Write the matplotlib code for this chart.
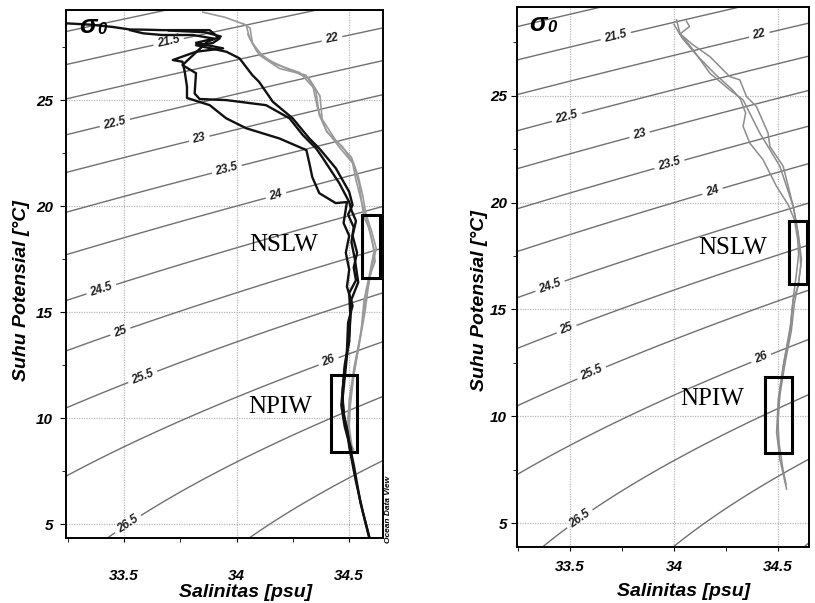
import numpy as np
import matplotlib
matplotlib.use('Agg')
import matplotlib.pyplot as plt
from matplotlib.ticker import MultipleLocator, FuncFormatter
from matplotlib.patches import Rectangle

plt.rcParams['font.family'] = ['Liberation Sans', 'DejaVu Sans']

# ---- data (salinity psu, potential temperature degC) ----
# left panel, black profiles
kiri_hitam1_S = [33.245, 33.35, 33.45, 33.527, 33.60, 33.67, 33.88, 33.925, 33.894, 33.82, 33.955,
                 34.013, 34.07, 34.10, 34.161, 34.249, 34.323, 34.367, 34.441, 34.50, 34.515, 34.495,
                 34.52, 34.51, 34.525, 34.54, 34.51, 34.50, 34.485, 34.47, 34.478, 34.493, 34.50,
                 34.53, 34.56, 34.596]
kiri_hitam1_T = [28.62, 28.56, 28.45, 28.33, 28.32, 28.30, 28.30, 27.91, 27.69, 27.59, 27.28,
                 26.97, 26.18, 25.86, 24.92, 24.14, 23.19, 22.72, 21.78, 20.67, 20.05, 19.60,
                 19.00, 18.30, 17.50, 16.40, 15.60, 14.00, 12.40, 10.85, 10.06, 9.28, 8.65,
                 7.00, 5.60, 4.10]

kiri_hitam2_S = [33.527, 33.585, 33.67, 33.807, 33.90, 33.82, 33.94, 33.82, 33.717, 33.76, 33.77,
                 33.78, 33.78, 33.881, 33.954, 34.043, 34.19, 34.31, 34.323, 34.336, 34.367, 34.44,
                 34.49, 34.475, 34.50, 34.485, 34.50, 34.49, 34.515, 34.495, 34.49, 34.475, 34.465,
                 34.48, 34.50, 34.52, 34.55, 34.59]
kiri_hitam2_T = [28.30, 28.15, 28.07, 28.07, 27.90, 27.70, 27.44, 27.28, 26.89, 26.81, 26.34,
                 25.63, 25.10, 24.76, 24.14, 23.67, 23.19, 22.64, 22.03, 21.37, 20.61, 20.14,
                 20.19, 19.20, 18.60, 17.80, 17.00, 16.20, 15.30, 14.50, 13.20, 11.80, 10.60,
                 9.60, 8.80, 7.80, 6.00, 4.30]

kiri_hitam3_S = [33.70, 33.86, 33.93, 33.87, 33.76, 33.82, 33.814, 33.836, 33.954, 34.131, 34.235,
                 34.294, 34.353, 34.38, 34.456, 34.50, 34.51, 34.53, 34.515, 34.535, 34.52, 34.53,
                 34.50, 34.505, 34.50, 34.48, 34.47, 34.475, 34.49, 34.50, 34.51]
kiri_hitam3_T = [28.28, 28.20, 28.00, 27.75, 26.65, 26.27, 25.31, 25.05, 25.00, 24.76, 24.14,
                 23.35, 22.72, 22.31, 21.08, 20.19, 19.80, 19.30, 18.60, 17.80, 17.10, 16.50,
                 15.90, 14.80, 13.60, 12.50, 11.20, 10.20, 9.50, 8.90, 8.50]

# left panel, grey profiles
kiri_abu1_S = [33.85, 33.95, 34.043, 34.058, 34.102, 34.19, 34.308, 34.353, 34.367, 34.398, 34.456,
               34.515, 34.53, 34.553, 34.575, 34.611, 34.588, 34.566, 34.552, 34.522, 34.50,
               34.493, 34.52, 34.55, 34.59]
kiri_abu1_T = [29.15, 28.90, 28.54, 27.91, 27.12, 26.49, 26.18, 25.39, 24.29, 23.58, 22.78,
               22.03, 21.23, 20.28, 19.48, 17.92, 16.67, 15.57, 13.99, 12.42, 10.85,
               9.28, 7.50, 6.00, 4.40]

kiri_abu2_S = [34.03, 34.06, 34.07, 34.12, 34.22, 34.32, 34.37, 34.38, 34.44, 34.51, 34.54, 34.56,
               34.575, 34.60, 34.62, 34.60, 34.585, 34.57, 34.545, 34.52, 34.505, 34.50, 34.51]
kiri_abu2_T = [28.60, 28.40, 27.70, 27.00, 26.50, 26.05, 25.20, 24.10, 23.10, 22.30, 21.40, 20.50,
               19.60, 18.80, 18.00, 17.10, 16.20, 15.00, 13.50, 12.00, 10.60, 9.60, 8.80]

kiri_abu3_S = [34.05, 34.09, 34.17, 34.28, 34.34, 34.36, 34.40, 34.47, 34.52, 34.545, 34.555, 34.565,
               34.59, 34.605, 34.615, 34.595, 34.575, 34.56, 34.535, 34.51, 34.495, 34.50, 34.52]
kiri_abu3_T = [28.10, 27.30, 26.70, 26.30, 25.60, 24.60, 23.50, 22.80, 22.00, 21.00, 20.20, 19.50,
               18.90, 18.20, 17.40, 16.80, 15.90, 14.60, 13.00, 11.40, 10.00, 9.00, 8.50]

# right panel, grey profiles
kanan_abu1_S = [34.013, 34.029, 34.093, 34.173, 34.269, 34.333, 34.365, 34.413, 34.462, 34.510, 34.542,
                34.574, 34.598, 34.614, 34.598, 34.574, 34.558, 34.526, 34.502, 34.494, 34.51, 34.542]
kanan_abu1_T = [28.55, 27.93, 27.15, 26.06, 25.28, 24.81, 24.19, 23.26, 22.48, 21.70, 20.76,
                19.83, 18.58, 17.34, 16.09, 15.47, 13.91, 12.35, 10.79, 9.24, 7.99, 6.59]

kanan_abu2_S = [34.00, 34.04, 34.11, 34.20, 34.28, 34.32, 34.345, 34.333, 34.365, 34.429, 34.494, 34.55,
                34.58, 34.595, 34.60, 34.59, 34.575, 34.56, 34.53, 34.51, 34.50, 34.505, 34.525, 34.54]
kanan_abu2_T = [28.35, 27.70, 26.90, 26.00, 25.30, 24.85, 24.20, 23.57, 22.79, 22.01, 20.76, 19.90,
                19.20, 18.30, 17.60, 16.70, 15.60, 14.20, 12.60, 11.20, 10.00, 8.80, 7.50, 6.80]

kanan_abu3_S = [34.06, 34.075, 34.03, 34.09, 34.173, 34.269, 34.317, 34.349, 34.397, 34.453, 34.462,
                34.526, 34.558, 34.574, 34.59, 34.605, 34.61, 34.60, 34.58, 34.565, 34.535, 34.51,
                34.50, 34.505]
kanan_abu3_T = [28.50, 28.25, 27.90, 27.40, 26.84, 25.90, 25.75, 24.97, 24.50, 23.26, 22.63,
                21.70, 20.45, 19.83, 19.00, 18.00, 17.00, 16.30, 15.30, 14.00, 12.50, 11.00,
                9.60, 8.60]

# water mass boxes (S min, S max, T min, T max)
kotak_kiri = {'NSLW': (34.558, 34.637, 16.6, 19.58), 'NPIW': (34.42, 34.535, 8.40, 12.03)}
kotak_kanan = {'NSLW': (34.553, 34.639, 16.17, 19.16), 'NPIW': (34.438, 34.567, 8.27, 11.82)}

level_polos = [20.0, 20.5, 21.0, 27.0, 27.5, 28.0]
level_label = [21.5, 22.0, 22.5, 23.0, 23.5, 24.0, 24.5, 25.0, 25.5, 26.0, 26.5]


def sigma0(S, T):
    # EOS-80 density at sea surface, minus 1000
    rw = (999.842594 + 6.793952e-2 * T - 9.095290e-3 * T**2 + 1.001685e-4 * T**3
          - 1.120083e-6 * T**4 + 6.536332e-9 * T**5)
    A = 0.824493 - 4.0899e-3 * T + 7.6438e-5 * T**2 - 8.2467e-7 * T**3 + 5.3875e-9 * T**4
    B = -5.72466e-3 + 1.0227e-4 * T - 1.6546e-6 * T**2
    C = 4.8314e-4
    return rw + A * S + B * S**1.5 + C * S**2 - 1000


def panel(ax, xlim, ylim, profil, kotak, label_pos, teks_pos, xpad, ypad):
    ax.set_xlim(xlim)
    ax.set_ylim(ylim)
    ss, tt = np.meshgrid(np.linspace(33.0, 35.0, 300), np.linspace(2, 31, 300))
    sig = sigma0(ss, tt)
    ax.contour(ss, tt, sig, levels=level_polos, colors='#707070', linewidths=1.0)
    cs = ax.contour(ss, tt, sig, levels=level_label, colors='#707070', linewidths=1.0)
    lbl = ax.clabel(cs, manual=label_pos, inline=True, inline_spacing=4,
                    fmt=lambda v: f'{v:g}', fontsize=8.5)
    for t in lbl:
        t.set_fontweight('bold')
        t.set_fontstyle('italic')
        t.set_color('#222222')

    for S, T, warna, lw in profil:
        ax.plot(S, T, color=warna, lw=lw, solid_joinstyle='round')

    for nama, (s0, s1, t0, t1) in kotak.items():
        ax.add_patch(Rectangle((s0, t0), s1 - s0, t1 - t0, fill=False, ec='black', lw=2.2, zorder=5))
        ax.text(teks_pos[nama][0], teks_pos[nama][1], nama, family='Liberation Serif',
                fontsize=18, ha='center', va='center', zorder=6)

    ax.xaxis.set_major_locator(MultipleLocator(0.5))
    ax.xaxis.set_minor_locator(MultipleLocator(0.25))
    ax.xaxis.set_major_formatter(FuncFormatter(lambda v, p: f'{v:g}'))
    ax.yaxis.set_major_locator(MultipleLocator(5))
    ax.yaxis.set_minor_locator(MultipleLocator(2.5))
    ax.grid(True, which='major', color='#b8b8b8', lw=0.9, ls=(0, (1, 1)))
    ax.set_axisbelow(True)
    ax.tick_params(axis='x', which='major', direction='out', length=3, pad=xpad, labelsize=11)
    ax.tick_params(axis='y', which='major', direction='out', length=4, pad=ypad, labelsize=11)
    ax.tick_params(which='minor', direction='out', length=3)
    for t in ax.get_xticklabels() + ax.get_yticklabels():
        t.set_fontweight('bold')
        t.set_fontstyle('italic')
    for sp in ax.spines.values():
        sp.set_linewidth(1.4)

    ax.set_xlabel('Salinitas [psu]', fontsize=14, fontweight='bold', fontstyle='italic')
    ax.set_ylabel('Suhu Potensial [°C]', fontsize=14, fontweight='bold', fontstyle='italic')


fig = plt.figure(figsize=(8.15, 6.03), dpi=100)
ax1 = fig.add_axes([66 / 815, 1 - 538 / 603, 317 / 815, 528 / 603])
ax2 = fig.add_axes([517 / 815, 1 - 547 / 603, 292 / 815, 540 / 603])

abu = '#9a9a9a'
profil_kiri = [(kiri_abu1_S, kiri_abu1_T, abu, 1.2), (kiri_abu2_S, kiri_abu2_T, abu, 1.2),
               (kiri_abu3_S, kiri_abu3_T, abu, 1.2),
               (kiri_hitam1_S, kiri_hitam1_T, '#111111', 1.7), (kiri_hitam2_S, kiri_hitam2_T, '#111111', 1.7),
               (kiri_hitam3_S, kiri_hitam3_T, '#111111', 1.7)]
profil_kanan = [(kanan_abu1_S, kanan_abu1_T, '#8c8c8c', 1.1), (kanan_abu2_S, kanan_abu2_T, '#8c8c8c', 1.1),
                (kanan_abu3_S, kanan_abu3_T, '#8c8c8c', 1.1)]

pos_kiri = [(33.70, 27.69), (34.425, 27.83), (33.46, 23.9), (33.836, 23.11), (33.96, 21.6),
            (34.177, 20.42), (33.394, 16.27), (33.482, 14.15), (33.584, 11.93), (34.41, 12.64),
            (33.527, 4.86)]
pos_kanan = [(33.716, 27.96), (34.413, 27.77), (33.484, 24.03), (33.837, 23.1), (33.981, 21.7),
             (34.188, 20.46), (33.404, 16.09), (33.484, 14.07), (33.604, 12.04), (34.422, 12.66),
             (33.548, 5.19)]

panel(ax1, (33.243, 34.65), (4.34, 29.25), profil_kiri, kotak_kiri, pos_kiri,
      {'NSLW': (34.208, 18.16), 'NPIW': (34.195, 10.52)}, 19, 5.4)
panel(ax2, (33.245, 34.65), (3.88, 29.16), profil_kanan, kotak_kanan, pos_kanan,
      {'NSLW': (34.284, 17.9), 'NPIW': (34.183, 10.79)}, 6.4, 3.2)

ax1.xaxis.set_label_coords(0.568, -0.103)
ax1.yaxis.set_label_coords(-0.139, 0.468)
ax2.xaxis.set_label_coords(0.572, -0.0815)
ax2.yaxis.set_label_coords(-0.127, 0.457)
for a in (ax1, ax2):
    a.xaxis.label.set_va('center')
    a.yaxis.label.set_va('center')

# sigma-0 marks in the top-left corner of each panel
for x0, y0 in [(79, 26), (529, 24)]:
    fig.text(x0 / 815, 1 - y0 / 603, 'σ', fontsize=19, fontweight='bold', fontstyle='italic',
             ha='left', va='center')
    fig.text((x0 + 18) / 815, 1 - (y0 + 4) / 603, '0', fontsize=12, fontweight='bold',
             fontstyle='italic', ha='left', va='center')

fig.text(389 / 815, 1 - 543 / 603, 'Ocean Data View', rotation=90, fontsize=6,
         fontweight='bold', fontstyle='italic', ha='center', va='bottom')

fig.savefig('out.png', dpi=100)
